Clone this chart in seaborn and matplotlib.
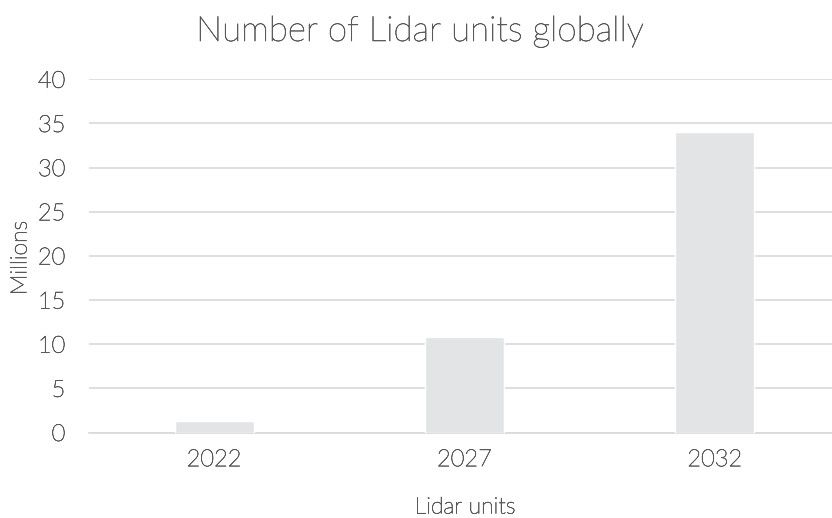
import matplotlib
matplotlib.use("Agg")
import matplotlib.pyplot as plt
import matplotlib.patheffects as pe
import seaborn as sns
import pandas as pd

years = ["2022", "2027", "2032"]
units_millions = [1.3, 10.8, 34.0]
yticks = [0, 5, 10, 15, 20, 25, 30, 35, 40]

sns.set_theme(style="white")
plt.rcParams['font.family'] = ['Lato', 'DejaVu Sans']

text_color = "#595959"
grid_color = "#D9D9D9"
bar_color = "#E3E4E6"
effects = [pe.withStroke(linewidth=0.45, foreground=text_color)]

df = pd.DataFrame({"year": years, "value": units_millions})

fig = plt.figure(figsize=(8.32, 5.18), dpi=100)
W, H = 832, 518
left, right, top, bottom = 89, 840, 79.3, 432.5
ax = fig.add_axes([left / W, 1 - bottom / H, (right - left) / W, (bottom - top) / H])

sns.barplot(data=df, x="year", y="value", color=bar_color, width=0.315,
            saturation=1, ax=ax, zorder=3)

ax.set_ylim(0, 40)
ax.set_xlim(-0.5, 2.5)
ax.set_yticks(yticks)
ax.yaxis.grid(True, color=grid_color, linewidth=1.2, zorder=0)
ax.set_axisbelow(True)
for s in ["top", "right", "left"]:
    ax.spines[s].set_visible(False)
ax.spines["bottom"].set_color(grid_color)
ax.spines["bottom"].set_linewidth(1.2)
ax.tick_params(axis="both", length=0, colors=text_color, labelsize=17)
ax.tick_params(axis="y", pad=17)
ax.tick_params(axis="x", pad=12)
for lab in ax.get_xticklabels() + ax.get_yticklabels():
    lab.set_fontweight("light")
    lab.set_path_effects(effects)

ax.set_xlabel("")
ax.set_ylabel("")
fig.text(465 / W, 1 - 507 / H, "Lidar units", ha="center", va="center",
         color=text_color, fontsize=16.5, fontweight="light", path_effects=effects)
fig.text(20 / W, 1 - 258 / H, "Millions", ha="center", va="center", rotation=90,
         color=text_color, fontsize=16.5, fontweight="light", path_effects=effects)
fig.text(420 / W, 1 - 31 / H, "Number of Lidar units globally", ha="center", va="center",
         color=text_color, fontsize=25.2, fontweight="light", path_effects=effects)

fig.savefig("out.png", dpi=100)
